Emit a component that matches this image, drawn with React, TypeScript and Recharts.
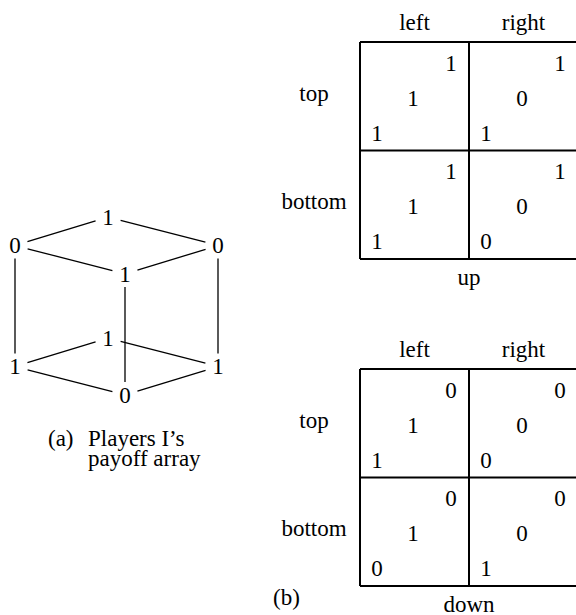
import { ScatterChart, Scatter, XAxis, YAxis, ReferenceLine } from "recharts";

// strategy names
const rows = ["top", "bottom"];
const cols = ["left", "right"];
const layers = ["up", "down"];

// payoffs indexed [layer][row][col]
const payoffI = [
  [[1, 1], [1, 0]],
  [[1, 0], [0, 1]],
];
const payoffII = [
  [[1, 0], [1, 0]],
  [[1, 0], [1, 0]],
];
const payoffIII = [
  [[1, 1], [1, 1]],
  [[0, 0], [0, 0]],
];

const captionA = ["(a)", "Players I\u2019s", "payoff array"];
const captionB = "(b)";

const W = 576;
const H = 615;
const INK = "#000";
const FONT = "Liberation Serif, Times New Roman, Times, serif";
const FONT_SIZE = 23;

// matrix layout
const GRID_X = 360;
const CELL_W = 109;
const CELL_H = 108.5;
const GRID_TOP = [42, 369];

// cube projection: layer 0 is the lower face
const project = (l: number, r: number, c: number) => ({
  x: 108 + 110 * c - 93 * r,
  y: 338 - 121 * l + 28.5 * (r + c),
});
const GAP = 13;

type Lbl = { x: number; y: number; text: string; anchor?: string };
type Seg = { x1: number; y1: number; x2: number; y2: number; w: number };

const labels: Lbl[] = [];
const segs: Seg[] = [];

// (a) cube
const edges: [number[], number[]][] = [];
[0, 1].forEach((l) => {
  [0, 1].forEach((r) =>
    [0, 1].forEach((c) => {
      const p = project(l, r, c);
      labels.push({ x: p.x, y: p.y, text: String(payoffI[l][r][c]) });
      if (r === 0) edges.push([[l, r, c], [l, 1, c]]);
      if (c === 0) edges.push([[l, r, c], [l, r, 1]]);
      if (l === 0 && !(r === 0 && c === 0)) edges.push([[0, r, c], [1, r, c]]);
    })
  );
});
edges.forEach(([a, b]) => {
  const p = project(a[0], a[1], a[2]);
  const q = project(b[0], b[1], b[2]);
  const len = Math.hypot(q.x - p.x, q.y - p.y);
  const ux = (q.x - p.x) / len;
  const uy = (q.y - p.y) / len;
  segs.push({
    x1: p.x + ux * GAP,
    y1: p.y + uy * GAP,
    x2: q.x - ux * GAP,
    y2: q.y - uy * GAP,
    w: 1.3,
  });
});
labels.push({ x: 48, y: 438, text: captionA[0], anchor: "start" });
labels.push({ x: 88, y: 438, text: captionA[1], anchor: "start" });
labels.push({ x: 88, y: 458, text: captionA[2], anchor: "start" });

// (b) matrices
layers.forEach((name, g) => {
  const top = GRID_TOP[g];
  rows.forEach((rn, r) => {
    labels.push({ x: 314, y: top + (r + 0.5) * CELL_H - 3, text: rn });
    cols.forEach((cn, c) => {
      const ox = GRID_X + c * CELL_W;
      const oy = top + r * CELL_H;
      labels.push({ x: ox + 91, y: oy + 21, text: String(payoffIII[g][r][c]) });
      labels.push({ x: ox + 53, y: oy + 56, text: String(payoffII[g][r][c]) });
      labels.push({ x: ox + 17, y: oy + 91, text: String(payoffI[g][r][c]) });
    });
  });
  cols.forEach((cn, c) => {
    labels.push({ x: GRID_X + (c + 0.5) * CELL_W, y: top - 20, text: cn });
  });
  labels.push({ x: GRID_X + CELL_W, y: top + 2 * CELL_H + 18, text: name });
  for (let i = 0; i <= 2; i++) {
    segs.push({ x1: GRID_X, y1: top + i * CELL_H, x2: GRID_X + 2 * CELL_W, y2: top + i * CELL_H, w: 2 });
    segs.push({ x1: GRID_X + i * CELL_W, y1: top, x2: GRID_X + i * CELL_W, y2: top + 2 * CELL_H, w: 2 });
  }
});
labels.push({ x: 273, y: 597, text: captionB, anchor: "start" });

const TextMark = (props: any) => {
  const d = props.payload as Lbl;
  return (
    <text
      x={props.cx}
      y={props.cy}
      textAnchor={d.anchor ?? "middle"}
      dominantBaseline="central"
      style={{ fontFamily: FONT, fontSize: FONT_SIZE }}
      fill={INK}
    >
      {d.text}
    </text>
  );
};

export default function App() {
  return (
    <div style={{ position: "absolute", left: 0, top: 0, background: "#fff" }}>
      <ScatterChart width={W} height={H} margin={{ top: 0, right: 0, bottom: 0, left: 0 }}>
        <XAxis type="number" dataKey="x" domain={[0, W]} hide allowDataOverflow />
        <YAxis type="number" dataKey="y" domain={[0, H]} reversed hide allowDataOverflow />
        {segs.map((s, i) => (
          <ReferenceLine
            key={i}
            segment={[{ x: s.x1, y: s.y1 }, { x: s.x2, y: s.y2 }]}
            stroke={INK}
            strokeWidth={s.w}
            ifOverflow="hidden"
          />
        ))}
        <Scatter data={labels} dataKey="y" shape={TextMark} isAnimationActive={false} />
      </ScatterChart>
    </div>
  );
}
